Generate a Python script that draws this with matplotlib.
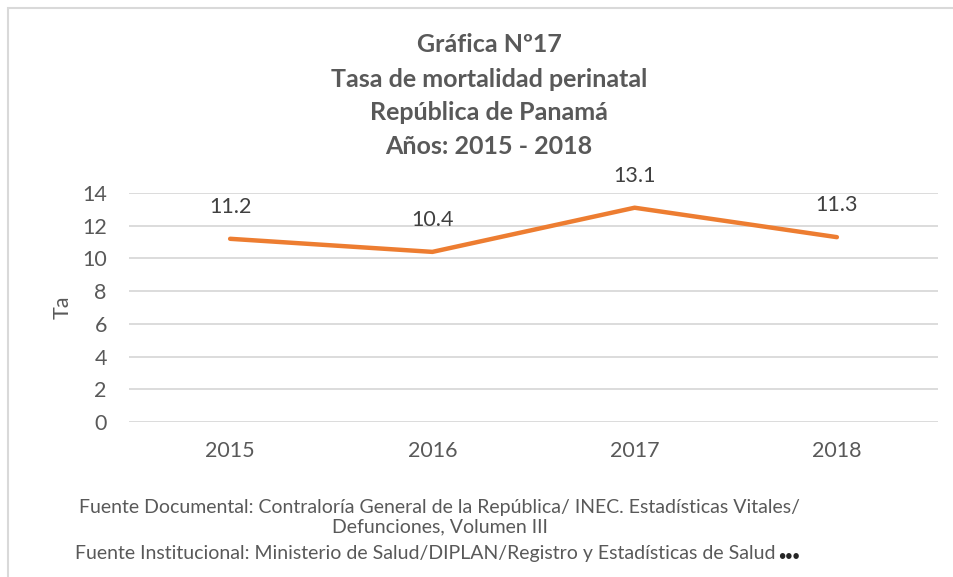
import matplotlib
matplotlib.use("Agg")
import matplotlib.pyplot as plt
from matplotlib.patches import Rectangle

years = ["2015", "2016", "2017", "2018"]
rates = [11.2, 10.4, 13.1, 11.3]
yticks = [0, 2, 4, 6, 8, 10, 12, 14]

title_lines = ["Gráfica Nº17", "Tasa de mortalidad perinatal", "República de Panamá", "Años: 2015 - 2018"]
foot_lines = [
    "Fuente Documental: Contraloría General de la República/ INEC. Estadísticas Vitales/",
    "Defunciones, Volumen III",
    "Fuente Institucional: Ministerio de Salud/DIPLAN/Registro y Estadísticas de Salud",
]

plt.rcParams['font.family'] = ['Lato', 'DejaVu Sans']
TXT = '#595959'
FS = 15.5

fig = plt.figure(figsize=(9.54, 5.77), dpi=100)
W, H = 954, 577
ax = fig.add_axes([129 / W, 155 / H, (938 - 129) / W, (422 - 193) / H])

x = list(range(len(years)))
ax.plot(x, rates, color='#ED7D31', linewidth=3.2, solid_capstyle='round', zorder=3)
for xi, v in zip(x, rates):
    ax.annotate(f"{v:.1f}", (xi, v), xytext=(0, 23), textcoords='offset points',
                ha='center', va='center', fontsize=FS, color='#404040')

ax.set_xlim(-0.5, len(years) - 0.5)
ax.set_ylim(0, 14)
ax.set_yticks(yticks)
ax.set_xticks(x)
ax.set_xticklabels(years)
ax.tick_params(axis='both', length=0, labelsize=FS, labelcolor=TXT)
ax.tick_params(axis='x', pad=14)
ax.tick_params(axis='y', pad=16)
ax.grid(axis='y', color='#D9D9D9', linewidth=1.3)
ax.set_axisbelow(True)
for s in ax.spines.values():
    s.set_visible(False)
ax.set_ylabel("Ta", fontsize=FS, color=TXT, labelpad=7)

ys = [45, 80, 113, 146]
for t, yy in zip(title_lines, ys):
    fig.text(489 / W, 1 - yy / H, t, ha='center', va='center', fontsize=18,
             fontweight='bold', color=TXT)

fy = [508, 527, 553]
fig.text(440 / W, 1 - fy[0] / H, foot_lines[0], ha='center', va='center', fontsize=14, color=TXT)
fig.text(440 / W, 1 - fy[1] / H, foot_lines[1], ha='center', va='center', fontsize=14, color=TXT)
t3 = fig.text(75 / W, 1 - fy[2] / H, foot_lines[2], ha='left', va='center', fontsize=14, color=TXT)
ax.annotate("•••", xy=(1, 0.35), xycoords=t3, xytext=(2, 0), textcoords='offset points',
            ha='left', va='center', fontsize=9, fontweight='bold', color='#262626',
            annotation_clip=False)

fig.patches.append(Rectangle((8 / W, -0.1), 1.2, 1.1 - 8 / H, transform=fig.transFigure,
                             fill=False, edgecolor='#D9D9D9', linewidth=1.5))

fig.savefig("out.png", dpi=100)
